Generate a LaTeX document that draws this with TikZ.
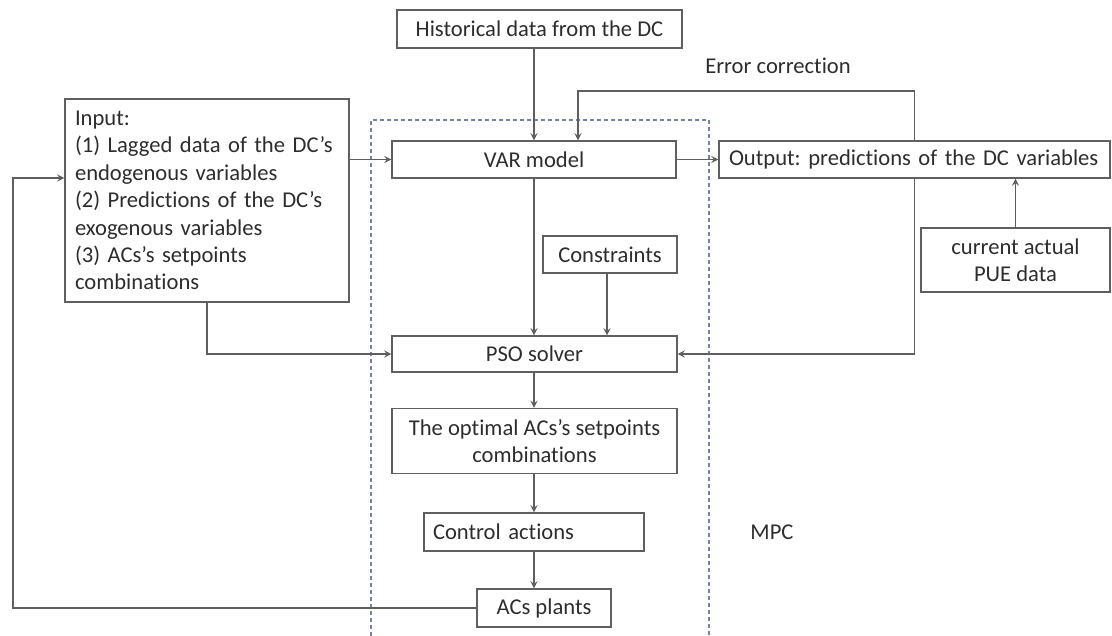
\documentclass[tikz,border=0pt]{standalone}
\usepackage{fontspec}
\setmainfont{Carlito}[Ligatures=NoCommon]
\usetikzlibrary{arrows}
\definecolor{linegray}{RGB}{95,95,95}
\definecolor{textgray}{RGB}{45,45,45}
\definecolor{mpcblue}{RGB}{115,130,165}
\tikzstyle{block}=[rectangle,draw=linegray,line width=0.6pt,text=textgray,
inner sep=0pt,align=center]
\tikzstyle{plaintext}=[text=textgray]
\tikzstyle{arrow}=[draw=linegray,line width=0.6pt,->,>=stealth]
\tikzstyle{mpcbox}=[draw=mpcblue,line width=0.6pt,dash pattern=on 2pt off 1.5pt]
\frenchspacing

\begin{document}
\begin{tikzpicture}[x=0.5pt,y=-0.5pt,font=\fontsize{11.3}{13.7}\selectfont]
        \useasboundingbox (0,0) rectangle (1112,636);

        % MPC region
        \draw [mpcbox] (371,636) -- (371,120) -- (709,120) -- (709,636);

        \node (hist) [block,minimum width=142.5pt,minimum height=19pt] at (539.5,29) {Historical data from the DC};
        \node (var) [block,minimum width=142pt,minimum height=18.5pt] at (534,159.5) {VAR model};
        \node (out) [block,minimum width=195.5pt,minimum height=18.5pt,text width=185.5pt,align=left] at (914.5,159.5) {Output: predictions of the DC variables};
        \node (pue) [block,minimum width=94.5pt,minimum height=32pt] at (1015.5,260) {current actual\\PUE data};
        \node (input) [block,minimum width=142pt,minimum height=101.5pt,text width=132pt,align=left] at (207,200.5) {Input:\\(1) Lagged data of the DC’s\\endogenous variables\\(2) Predictions of the DC’s\\exogenous variables\\(3) ACs’s setpoints\\combinations};
        \node (cons) [block,minimum width=67pt,minimum height=18.5pt] at (610,254.5) {Constraints};
        \node (pso) [block,minimum width=142.5pt,minimum height=18pt] at (534.5,354) {PSO solver};
        \node (opt) [block,minimum width=142.5pt,minimum height=32.5pt] at (534.5,441) {The optimal ACs’s setpoints\\combinations};
        \node (ctrl) [block,minimum width=110pt,minimum height=19pt,text width=101pt,align=left] at (534,532) {Control actions};
        \node (acs) [block,minimum width=67pt,minimum height=19pt] at (544,608) {ACs plants};

        \node (err) [plaintext] at (778,66) {Error correction};
        \node (mpc) [plaintext] at (772,532) {MPC};

        \coordinate (ec) at (578,91);
        \coordinate (fb) at (13,178);

        \draw [arrow] (var.north |- hist.south) -- (var.north);
        \draw [arrow] (out.north) |- (ec) -- (ec |- var.north);
        \draw [arrow] (var.east) -- (out.west);
        \draw [arrow] (input.east |- var) -- (var.west);
        \draw [arrow] (var.south) -- (var.south |- pso.north);
        \draw [arrow] (cons.south -| 607,0) -- (607,0 |- pso.north);
        \draw [arrow] (input.south) |- (pso.west);
        \draw [arrow] (out.south) |- (pso.east);
        \draw [arrow] (pue.north) -- (pue.north |- out.south);
        \draw [arrow] (var.south |- pso.south) -- (var.south |- opt.north);
        \draw [arrow] (var.south |- opt.south) -- (var.south |- ctrl.north);
        \draw [arrow] (var.south |- ctrl.south) -- (var.south |- acs.north);
        \draw [arrow] (acs.west) -| (fb) -- (fb -| input.west);

    \end{tikzpicture}
\end{document}
